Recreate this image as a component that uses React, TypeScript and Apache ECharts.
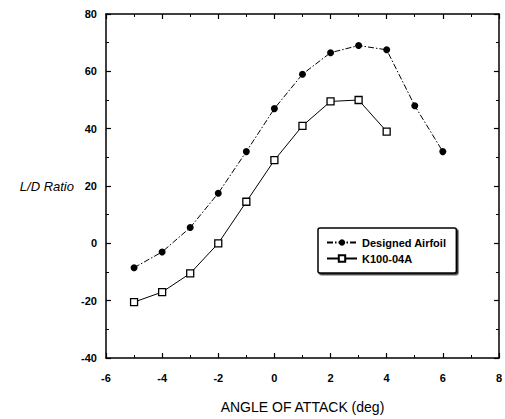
import React, { useEffect, useRef } from "react";
import * as echarts from "echarts";

const angles = [-5, -4, -3, -2, -1, 0, 1, 2, 3, 4, 5, 6];
const designedAirfoil = [-8.5, -3, 5.5, 17.5, 32, 47, 59, 66.5, 69, 67.5, 48, 32];
const k10004aAngles = [-5, -4, -3, -2, -1, 0, 1, 2, 3, 4];
const k10004a = [-20.5, -17, -10.5, 0, 14.5, 29, 41, 49.5, 50, 39];

const FONT = "'Liberation Sans', Arial, Helvetica, sans-serif";

export default function App() {
  const ref = useRef<HTMLDivElement>(null);
  useEffect(() => {
    if (!ref.current) return;
    const chart = echarts.init(ref.current, null, { renderer: "svg" });
    const axisLine = { show: true, onZero: false, lineStyle: { color: "#000", width: 1.5 } };
    const tickStyle = { show: true, inside: true, length: 5, lineStyle: { color: "#000", width: 1.2 } };
    const minorStyle = { show: true, splitNumber: 2, length: 3, lineStyle: { color: "#000", width: 1 } };
    chart.setOption({
      animation: false,
      backgroundColor: "#fff",
      textStyle: { fontFamily: FONT },
      grid: { left: 106, right: 2, top: 14, bottom: 59, containLabel: false },
      legend: {
        orient: "vertical",
        left: 318,
        top: 228,
        padding: [9, 10, 9, 8],
        itemGap: 5,
        itemWidth: 30,
        itemHeight: 8,
        borderColor: "#000",
        borderWidth: 1.5,
        borderRadius: 2,
        backgroundColor: "#fff",
        shadowColor: "rgba(0,0,0,0.8)",
        shadowOffsetX: 1.5,
        shadowOffsetY: 1.5,
        shadowBlur: 0,
        textStyle: { fontFamily: FONT, fontWeight: "bold", fontSize: 11, color: "#000" },
        data: ["Designed Airfoil", "K100-04A"],
      },
      xAxis: [
        {
          type: "value",
          min: -6,
          max: 8,
          interval: 2,
          name: "ANGLE OF ATTACK (deg)",
          nameLocation: "middle",
          nameGap: 42,
          nameTextStyle: { fontFamily: FONT, fontSize: 14, color: "#000" },
          axisLine,
          axisTick: tickStyle,
          minorTick: minorStyle,
          splitLine: { show: false },
          axisLabel: { color: "#000", fontWeight: "bold", fontSize: 11, margin: 14, fontFamily: FONT },
        },
        {
          type: "value",
          position: "top",
          min: -6,
          max: 8,
          interval: 2,
          axisLine,
          axisTick: tickStyle,
          minorTick: minorStyle,
          splitLine: { show: false },
          axisLabel: { show: false },
        },
      ],
      yAxis: [
        {
          type: "value",
          min: -40,
          max: 80,
          interval: 20,
          name: "L/D Ratio",
          nameLocation: "middle",
          nameRotate: 0,
          nameGap: 32,
          nameTextStyle: { fontFamily: FONT, fontSize: 13, fontStyle: "italic", color: "#000", align: "right" },
          axisLine,
          axisTick: tickStyle,
          minorTick: minorStyle,
          splitLine: { show: false },
          axisLabel: { color: "#000", fontWeight: "bold", fontSize: 11, margin: 9, fontFamily: FONT },
        },
        {
          type: "value",
          position: "right",
          min: -40,
          max: 80,
          interval: 20,
          axisLine,
          axisTick: tickStyle,
          minorTick: minorStyle,
          splitLine: { show: false },
          axisLabel: { show: false },
        },
      ],
      series: [
        {
          name: "Designed Airfoil",
          type: "line",
          data: angles.map((a, i) => [a, designedAirfoil[i]]),
          symbol: "circle",
          symbolSize: 7,
          itemStyle: { color: "#000", borderColor: "#000", borderWidth: 0 },
          lineStyle: { color: "#000", width: 1, type: [6, 2, 1.5, 2] },
        },
        {
          name: "K100-04A",
          type: "line",
          data: k10004aAngles.map((a, i) => [a, k10004a[i]]),
          symbol: "rect",
          symbolSize: 7,
          itemStyle: { color: "#fff", borderColor: "#000", borderWidth: 1.3 },
          lineStyle: { color: "#000", width: 1 },
        },
      ],
    });
    return () => chart.dispose();
  }, []);
  return <div ref={ref} style={{ width: 505, height: 419, position: "absolute", left: 0, top: 0 }} />;
}
